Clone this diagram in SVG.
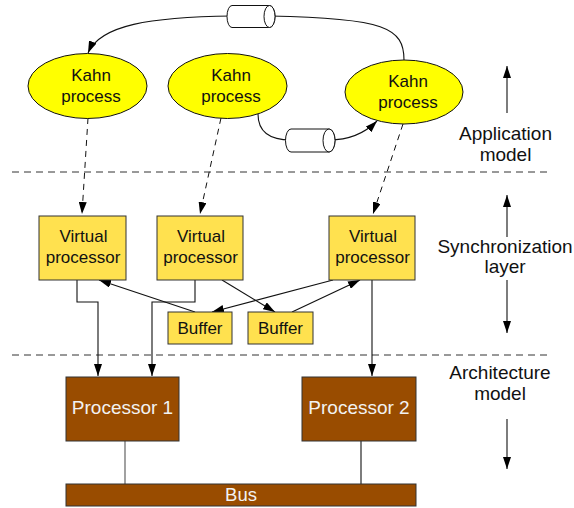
<svg xmlns="http://www.w3.org/2000/svg" width="574" height="508" viewBox="0 0 574 508">
<style>
text{font-family:"Liberation Sans",Arial,sans-serif;text-anchor:middle;fill:#111}
.k{font-size:17px}
.p{font-size:19px;fill:#f2f2f2}
.lab{font-size:19px}
.ell{fill:#ffff00;stroke:#111;stroke-width:1}
.vp{fill:#ffe14f;stroke:#333;stroke-width:1}
.pr{fill:#994c00;stroke:#333;stroke-width:1}
.cyl{fill:#fff;stroke:#111;stroke-width:1}
.c{fill:none;stroke:#111;stroke-width:1.1}
.g{fill:none;stroke:#555;stroke-width:1.1}
.d{fill:none;stroke:#111;stroke-width:1;stroke-dasharray:6,5}
.sep{fill:none;stroke:#333;stroke-width:1;stroke-dasharray:7,5}
</style>
<defs>
<marker id="a" viewBox="0 0 12 8" refX="12" refY="4" markerWidth="12" markerHeight="8" markerUnits="userSpaceOnUse" orient="auto"><path d="M0,0 L12,4 L0,8 z" fill="#000"/></marker>
</defs>

<g id="separators">
<line class="sep" x1="12" y1="172" x2="550" y2="172"/>
<line class="sep" x1="12" y1="355" x2="550" y2="355"/>
</g>

<g id="connectors">
<path class="c" d="M404,60 C404,28 385,18 270,16 L232,16 C150,17 100,25 88,53" marker-end="url(#a)"/>
<path class="c" d="M258,114 C258,134 272,140 291,140 L329,140 C350,140 365,133 377,121" marker-end="url(#a)"/>
<line class="d" x1="88" y1="118" x2="82" y2="214" marker-end="url(#a)"/>
<line class="d" x1="221" y1="118" x2="200" y2="214" marker-end="url(#a)"/>
<line class="d" x1="403" y1="124" x2="373" y2="214" marker-end="url(#a)"/>
<polyline class="c" points="77,280 77,302 98,302 98,376" marker-end="url(#a)"/>
<polyline class="c" points="195,280 195,302 152,302 152,376" marker-end="url(#a)"/>
<line class="c" x1="372" y1="280" x2="372" y2="376" marker-end="url(#a)"/>
<line class="c" x1="195" y1="312" x2="99" y2="280" marker-end="url(#a)"/>
<line class="c" x1="222" y1="280" x2="275" y2="312" marker-end="url(#a)"/>
<line class="c" x1="333" y1="280" x2="212" y2="312" marker-end="url(#a)"/>
<line class="c" x1="292" y1="312" x2="360" y2="280" marker-end="url(#a)"/>
<line class="g" x1="125" y1="441" x2="125" y2="484"/>
<line class="c" x1="361" y1="441" x2="361" y2="484"/>
<line class="c" x1="507" y1="113" x2="507" y2="66" marker-end="url(#a)"/>
<line class="c" x1="507" y1="237" x2="507" y2="195" marker-end="url(#a)"/>
<line class="c" x1="507" y1="280" x2="507" y2="333" marker-end="url(#a)"/>
<line class="c" x1="507" y1="419" x2="507" y2="469" marker-end="url(#a)"/>
</g>

<g id="channel1">
<path class="cyl" d="M232,5.5 L269.5,5.5 A5.5,11 0 0 1 269.5,27.5 L232,27.5 A5,11 0 0 1 232,5.5 Z"/>
<ellipse class="cyl" cx="269.5" cy="16.5" rx="5.5" ry="11"/>
</g>
<g id="channel2">
<path class="cyl" d="M291,129 L329,129 A6,11.5 0 0 1 329,152 L291,152 A5.5,11.5 0 0 1 291,129 Z"/>
<ellipse class="cyl" cx="329" cy="140.5" rx="6" ry="11.5"/>
</g>

<g id="kahn1">
<ellipse class="ell" cx="87.5" cy="86" rx="59.5" ry="32.5"/>
<text class="k" x="91" y="81">Kahn</text>
<text class="k" x="91" y="102">process</text>
</g>
<g id="kahn2">
<ellipse class="ell" cx="227.5" cy="86" rx="59.5" ry="32.5"/>
<text class="k" x="231" y="81">Kahn</text>
<text class="k" x="231" y="102">process</text>
</g>
<g id="kahn3">
<ellipse class="ell" cx="404" cy="92" rx="59" ry="32"/>
<text class="k" x="408" y="87">Kahn</text>
<text class="k" x="408" y="108">process</text>
</g>

<g id="vp1">
<rect class="vp" x="39" y="216" width="87" height="64"/>
<text class="k" x="83.5" y="242">Virtual</text>
<text class="k" x="83" y="263">processor</text>
</g>
<g id="vp2">
<rect class="vp" x="157" y="216" width="86" height="64"/>
<text class="k" x="201" y="242">Virtual</text>
<text class="k" x="200.5" y="263">processor</text>
</g>
<g id="vp3">
<rect class="vp" x="329" y="216" width="86" height="64"/>
<text class="k" x="373" y="242">Virtual</text>
<text class="k" x="372.5" y="263">processor</text>
</g>

<g id="buffer1">
<rect class="vp" x="168" y="312" width="64" height="32"/>
<text class="k" x="200" y="334">Buffer</text>
</g>
<g id="buffer2">
<rect class="vp" x="248" y="312" width="65" height="32"/>
<text class="k" x="280.5" y="334">Buffer</text>
</g>

<g id="processor1">
<rect class="pr" x="66" y="377" width="113" height="64"/>
<text class="p" x="122.5" y="414">Processor 1</text>
</g>
<g id="processor2">
<rect class="pr" x="302" y="377" width="114" height="64"/>
<text class="p" x="359" y="414">Processor 2</text>
</g>
<g id="bus">
<rect class="pr" x="66" y="484" width="350" height="22"/>
<text class="p" x="241" y="501" style="font-size:18.5px">Bus</text>
</g>

<g id="labels">
<text class="lab" x="505.5" y="140">Application</text>
<text class="lab" x="505.5" y="161">model</text>
<text class="lab" x="505" y="253">Synchronization</text>
<text class="lab" x="505" y="273">layer</text>
<text class="lab" x="500" y="379">Architecture</text>
<text class="lab" x="500" y="400">model</text>
</g>
</svg>
